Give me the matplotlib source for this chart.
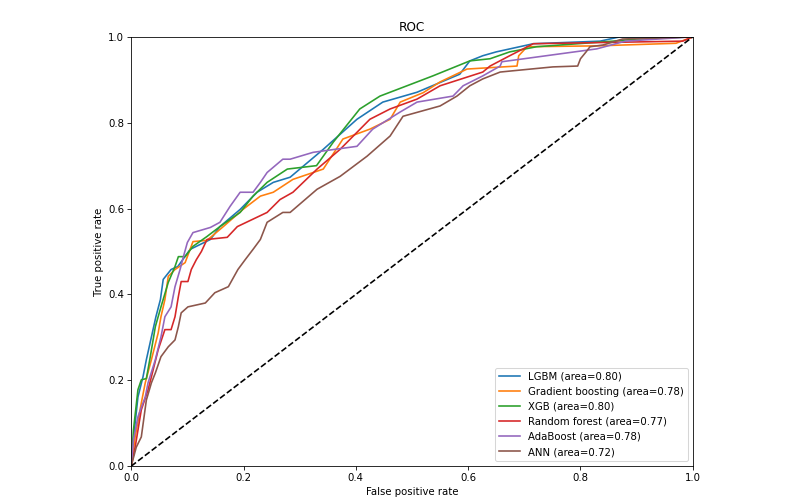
import matplotlib
matplotlib.use('Agg')
import matplotlib.pyplot as plt

# ROC vertices (fpr, tpr)
lgbm_fpr = [0, 0.007, 0.012, 0.021, 0.027, 0.036, 0.044, 0.052, 0.057, 0.071, 0.083, 0.105, 0.141, 0.158,
            0.194, 0.224, 0.253, 0.283, 0.342, 0.402, 0.448, 0.509, 0.585, 0.603, 0.626, 0.65, 0.716, 0.835, 0.87, 1.0]
lgbm_tpr = [0, 0.10, 0.161, 0.208, 0.248, 0.301, 0.348, 0.388, 0.435, 0.458, 0.465, 0.505, 0.528, 0.558,
            0.598, 0.638, 0.661, 0.673, 0.738, 0.808, 0.848, 0.871, 0.913, 0.944, 0.956, 0.965, 0.984, 0.99, 1.0, 1.0]

gb_fpr = [0, 0.007, 0.018, 0.025, 0.036, 0.048, 0.053, 0.06, 0.066, 0.078, 0.096, 0.11, 0.135, 0.164, 0.199,
          0.23, 0.253, 0.288, 0.342, 0.377, 0.425, 0.461, 0.479, 0.52, 0.55, 0.598, 0.687, 0.69, 0.705, 0.829, 0.97, 1.0]
gb_tpr = [0, 0.068, 0.147, 0.194, 0.248, 0.31, 0.348, 0.388, 0.442, 0.458, 0.474, 0.523, 0.526, 0.558, 0.598,
          0.629, 0.638, 0.668, 0.692, 0.762, 0.785, 0.808, 0.848, 0.87, 0.895, 0.925, 0.932, 0.956, 0.977, 0.979, 0.985, 1.0]

xgb_fpr = [0, 0.004, 0.012, 0.018, 0.027, 0.034, 0.043, 0.053, 0.066, 0.078, 0.084, 0.096, 0.11, 0.135, 0.158,
           0.194, 0.217, 0.242, 0.278, 0.33, 0.36, 0.407, 0.443, 0.537, 0.603, 0.639, 0.674, 0.722, 0.858, 0.9, 1.0]
xgb_tpr = [0, 0.084, 0.178, 0.201, 0.204, 0.255, 0.325, 0.371, 0.428, 0.465, 0.488, 0.488, 0.512, 0.535, 0.558,
           0.591, 0.629, 0.661, 0.692, 0.70, 0.755, 0.832, 0.862, 0.909, 0.944, 0.949, 0.965, 0.977, 0.99, 0.995, 1.0]

rf_fpr = [0, 0.007, 0.018, 0.030, 0.036, 0.048, 0.06, 0.071, 0.078, 0.084, 0.089, 0.101, 0.107, 0.116, 0.125,
          0.135, 0.171, 0.189, 0.242, 0.265, 0.288, 0.331, 0.372, 0.425, 0.461, 0.509, 0.55, 0.626, 0.639, 0.674,
          0.716, 0.982, 1.0]
rf_tpr = [0, 0.044, 0.131, 0.178, 0.208, 0.271, 0.318, 0.318, 0.348, 0.395, 0.43, 0.43, 0.458, 0.481, 0.50,
          0.528, 0.533, 0.558, 0.591, 0.621, 0.638, 0.692, 0.738, 0.808, 0.832, 0.855, 0.886, 0.918, 0.932, 0.956,
          0.984, 0.99, 1.0]

ada_fpr = [0, 0.004, 0.012, 0.025, 0.030, 0.043, 0.053, 0.06, 0.071, 0.078, 0.087, 0.093, 0.10, 0.11, 0.141,
           0.158, 0.176, 0.194, 0.217, 0.23, 0.242, 0.27, 0.283, 0.324, 0.402, 0.43, 0.479, 0.509, 0.573, 0.591,
           0.626, 0.657, 0.66, 0.829, 0.88, 1.0]
ada_tpr = [0, 0.061, 0.115, 0.161, 0.194, 0.248, 0.301, 0.348, 0.371, 0.418, 0.458, 0.488, 0.521, 0.544, 0.556,
           0.568, 0.605, 0.638, 0.638, 0.661, 0.684, 0.715, 0.715, 0.731, 0.745, 0.785, 0.825, 0.848, 0.862, 0.886,
           0.909, 0.932, 0.942, 0.972, 0.99, 1.0]

ann_fpr = [0, 0.009, 0.018, 0.027, 0.036, 0.043, 0.053, 0.066, 0.078, 0.084, 0.089, 0.101, 0.132, 0.149, 0.173,
           0.19, 0.203, 0.217, 0.23, 0.242, 0.27, 0.283, 0.331, 0.372, 0.42, 0.461, 0.484, 0.55, 0.58, 0.603, 0.626,
           0.657, 0.68, 0.751, 0.795, 0.80, 0.81, 0.817, 0.84, 0.875, 1.0]
ann_tpr = [0, 0.044, 0.068, 0.154, 0.194, 0.217, 0.255, 0.278, 0.294, 0.325, 0.357, 0.371, 0.38, 0.404, 0.418,
           0.458, 0.481, 0.505, 0.528, 0.568, 0.591, 0.591, 0.645, 0.675, 0.722, 0.769, 0.815, 0.839, 0.862, 0.886,
           0.902, 0.918, 0.921, 0.93, 0.932, 0.949, 0.965, 0.977, 0.981, 0.995, 1.0]

models = ['LGBM', 'Gradient boosting', 'XGB', 'Random forest', 'AdaBoost', 'ANN']
aucs = [0.80, 0.78, 0.80, 0.77, 0.78, 0.72]
curves = [(lgbm_fpr, lgbm_tpr), (gb_fpr, gb_tpr), (xgb_fpr, xgb_tpr),
          (rf_fpr, rf_tpr), (ada_fpr, ada_tpr), (ann_fpr, ann_tpr)]

dpi = 73
fig = plt.figure(figsize=(800 / dpi, 498 / dpi), dpi=dpi)
ax = fig.add_axes([0.164, 0.064, 0.702, 0.862])

for name, auc, (fpr, tpr) in zip(models, aucs, curves):
    ax.plot(fpr, tpr, linewidth=1.6, label='{} (area={:.2f})'.format(name, auc))

ax.plot([0, 1], [0, 1], 'k--', linewidth=1.6)
ax.set_xlim(0.0, 1.0)
ax.set_ylim(0.0, 1.0)
ax.set_title('ROC')
ax.set_xlabel('False positive rate')
ax.set_ylabel('True positive rate')
ax.legend(loc='lower right')

fig.savefig('out.png', dpi=dpi)
